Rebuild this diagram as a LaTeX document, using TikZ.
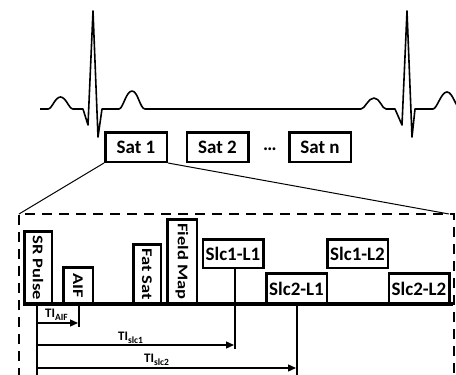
\documentclass[tikz,border=0pt]{standalone}
\usepackage{fontspec}
\usepackage{graphicx}
\setmainfont{Carlito}
\usetikzlibrary{arrows.meta}
\newcommand{\tilab}[1]{\bfseries{\fontsize{13}{13}\selectfont TI}\raisebox{-3pt}{\fontsize{9.5}{9.5}\selectfont #1}}
\newcommand{\vtext}[1]{\scalebox{1}[0.8]{#1}}
\begin{document}
\begin{tikzpicture}[x=1pt,y=-1pt,
  ecg/.style={line width=1.6pt, line join=round},
  boxbase/.style={draw, line width=2.5pt, inner sep=0pt, fill=white,
    font=\fontsize{19}{19}\selectfont\bfseries},
  satbox/.style={boxbase, minimum width=61.5pt, minimum height=29.5pt},
  hbox/.style={boxbase, minimum width=60.5pt, minimum height=29.5pt},
  vbox/.style={boxbase, rotate=-90, font=\fontsize{18.5}{18.5}\selectfont\bfseries},
  zoomline/.style={line width=1pt},
  frame/.style={line width=2.5pt, dash pattern=on 10pt off 7pt},
  baseln/.style={line width=3.5pt},
  tline/.style={line width=1.3pt},
  tiarrow/.style={line width=1.3pt, -{Triangle[length=8pt,width=7pt]}}
]
\useasboundingbox (0,0) rectangle (456,375);
\clip (0,0) rectangle (456,375);

% ECG trace
\draw[ecg] (40,109) -- (48,109)
 .. controls (52,109) and (55,97) .. (60.5,97)
 .. controls (66,97) and (69,109) .. (73,109)
 -- (83,109) -- (88,125) -- (93,11) -- (98,137) -- (102,109) -- (119,109)
 .. controls (123,109) and (126,91) .. (132,91)
 .. controls (138,91) and (140,109) .. (145,109)
 -- (361,109)
 .. controls (365,109) and (368,98) .. (374,98)
 .. controls (380,98) and (382,109) .. (386,109)
 -- (395,109) -- (402,125) -- (407,11) -- (412,137) -- (415,109) -- (433,109)
 .. controls (437,109) and (441,92) .. (447,92)
 .. controls (453,92) and (456,109) .. (461,109);

% Sat boxes
\node[satbox] (sat1) at (136,147) {Sat 1};
\node[satbox] (sat2) at (217.5,147) {Sat 2};
\node[anchor=base, inner sep=0pt, font=\fontsize{19}{19}\selectfont\bfseries] (dots) at (270,150) {…};
\node[satbox] (satn) at (320,147) {Sat n};

% frame
\coordinate (fBL) at (19,378);
\coordinate (fTL) at (19,214);
\coordinate (fTR) at (454,214);
\coordinate (fBR) at (454,378);
\coordinate (zR) at (449,214);
\draw[frame] (fBL) -- (fTL) -- (fTR) -- (fBR);
\draw[zoomline] (sat1.south west) -- (fTL);
\draw[zoomline] (sat1.south east) -- (zR);

% sequence boxes
\node[vbox, minimum width=72.5pt, minimum height=27.5pt] (sr) at (38,267.5) {\vtext{SR Pulse}};
\node[vbox, minimum width=36.5pt, minimum height=29.5pt] (aif) at (78,285.5) {\vtext{AIF}\hspace{7pt}};
\node[vbox, minimum width=59.5pt, minimum height=27.5pt] (fat) at (147,274) {\vtext{Fat Sat}};
\node[vbox, minimum width=84.5pt, minimum height=29.5pt] (fmap) at (182,261.5) {\vtext{Field Map}};
\node[hbox, minimum height=28.5pt] (s1l1) at (233,253.5) {Slc1-L1};
\node[hbox, minimum height=30.5pt] (s2l1) at (296.5,288.5) {Slc2-L1};
\node[hbox, minimum height=28.5pt] (s1l2) at (357.5,253.5) {Slc1-L2};
\node[hbox, minimum height=30.5pt] (s2l2) at (419,288.5) {Slc2-L2};

% baseline
\coordinate (bl) at (23,304);
\coordinate (br) at (453,304);
\draw[baseln] (bl) -- (br);

% timing
\coordinate (v0t) at (37,305);
\coordinate (v0b) at (37,378);
\draw[tline] (v0t) -- (v0b);
\coordinate (a0s) at (37,323);
\coordinate (a0e) at (78,323);
\coordinate (k0t) at (79,305);
\coordinate (k0b) at (79,327);
\draw[tline] (k0t) -- (k0b);
\draw[tiarrow] (a0s) -- (a0e);
\node[anchor=base west, inner sep=0pt] (tiaif) at (45,317) {\tilab{AIF}};

\coordinate (a1s) at (37,345);
\coordinate (a1e) at (234,345);
\coordinate (k1b) at (235,349);
\draw[tline] (s1l1.south -| k1b) -- (k1b);
\draw[tiarrow] (a1s) -- (a1e);
\node[anchor=base west, inner sep=0pt] (tis1) at (118,340) {\tilab{slc1}};

\coordinate (a2s) at (37,368);
\coordinate (a2e) at (296,368);
\coordinate (k2b) at (297,378);
\draw[tline] (s2l1.south -| k2b) -- (k2b);
\draw[tiarrow] (a2s) -- (a2e);
\node[anchor=base west, inner sep=0pt] (tis2) at (144,362) {\tilab{slc2}};
\end{tikzpicture}
\end{document}
